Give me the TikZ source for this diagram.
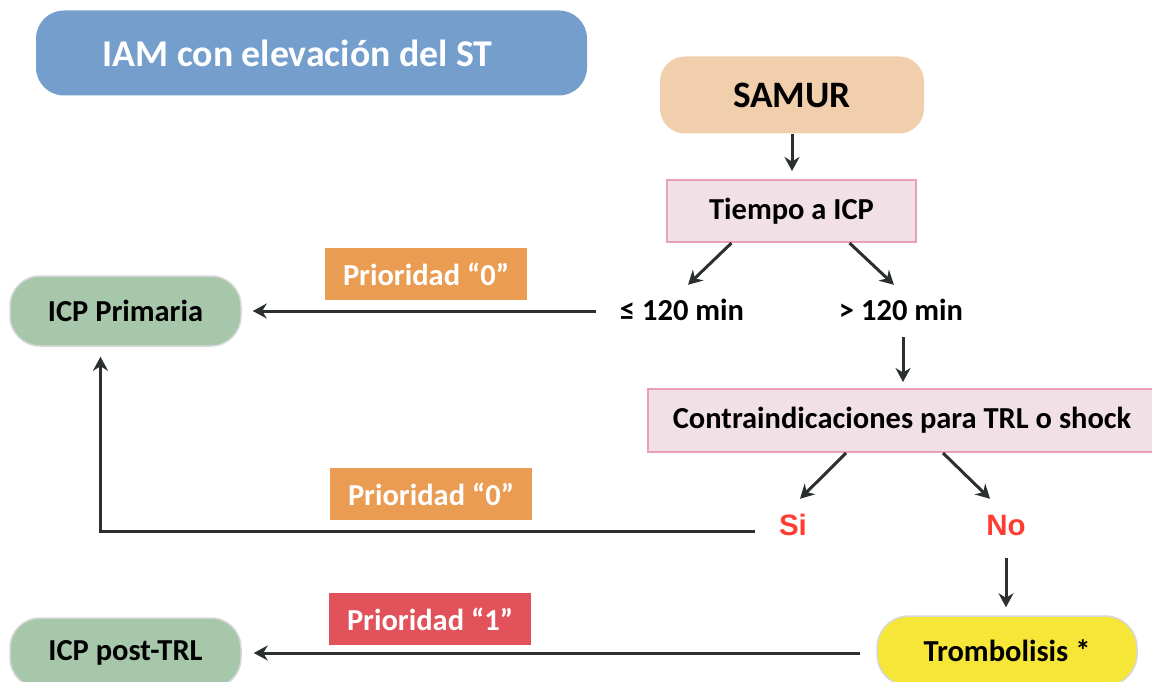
\documentclass[tikz,border=0pt]{standalone}
\usepackage{fontspec}
\setmainfont{Carlito}
\newfontfamily\arialf{Liberation Sans}
\usetikzlibrary{arrows.meta,calc}
\definecolor{titlec}{RGB}{116,158,204}
\definecolor{samurc}{RGB}{241,206,172}
\definecolor{pinkf}{RGB}{242,224,231}
\definecolor{pinkd}{RGB}{232,160,190}
\definecolor{orangec}{RGB}{234,157,82}
\definecolor{redc}{RGB}{225,82,90}
\definecolor{greenc}{RGB}{167,199,170}
\definecolor{grayd}{RGB}{215,215,215}
\definecolor{yellowc}{RGB}{245,230,55}
\definecolor{sino}{RGB}{255,60,50}
\definecolor{arrc}{RGB}{43,47,47}
\begin{document}
\begin{tikzpicture}[x=1pt,y=-1pt,
  base/.style={inner sep=0pt, font=\bfseries\fontsize{30.5}{35}\selectfont},
  lbl/.style={base, text height=20pt, text depth=6pt},
  endbox/.style={base, rounded corners=30pt, fill=greenc, draw=grayd, line width=1.5pt, minimum width=231pt, minimum height=70pt},
  prio/.style={base, text=white, minimum width=202pt, minimum height=52pt},
  decbox/.style={base, fill=pinkf, draw=pinkd, line width=2pt},
  arr/.style={draw=arrc, line width=3pt, -{Stealth[length=14pt,width=15pt]}},
  plain/.style={draw=arrc, line width=3pt}
]
\useasboundingbox (0,0) rectangle (1152,682);
\clip (0,0) rectangle (1152,682);
% nodes
\node[base, fill=titlec, text=white, rounded corners=28pt, minimum width=551pt, minimum height=85pt, font=\bfseries\fontsize{37.8}{42}\selectfont] (title) at (311.5,53) {\hspace*{-28pt}IAM con elevación del ST};
\node[base, fill=samurc, rounded corners=25pt, minimum width=264pt, minimum height=77pt, font=\bfseries\fontsize{37.3}{42}\selectfont] (samur) at (792,95) {SAMUR};
\node[decbox, minimum width=249pt, minimum height=62pt] (tiempo) at (791.5,211) {Tiempo a ICP};
\node[lbl] (le) at (682,313) {≤ 120 min};
\node[lbl] (gt) at (901,313) {> 120 min};
\node[endbox] (prim) at (125.5,311) {ICP Primaria};
\node[prio, fill=orangec] (p0a) at (426,274) {Prioridad “0”};
\node[decbox, minimum width=508pt, minimum height=63pt] (contra) at (902,420.5) {Contraindicaciones para TRL o shock};
\node[lbl, text=sino, font=\arialf\bfseries\fontsize{29.5}{34}\selectfont] (si) at (793,528) {Si};
\node[lbl, text=sino, font=\arialf\bfseries\fontsize{29.5}{34}\selectfont] (no) at (1006,528) {No};
\node[prio, fill=orangec] (p0b) at (431,494) {Prioridad “0”};
\node[endbox, fill=yellowc, rounded corners=32pt, minimum width=260pt] (trom) at (1007,651) {Trombolisis *};
\node[endbox] (post) at (125.5,653) {ICP post-TRL};
\node[prio, fill=redc] (p1) at (430,619) {Prioridad “1”};
% connectors
\draw[arr, shorten >=8pt] (samur.south) -- (samur.south |- tiempo.north);
\draw[arr] ($(tiempo.south)+(-60,0)$) -- ($(le.north)+(6,-15)$);
\draw[arr] ($(tiempo.south)+(58,0)$) -- ($(gt.north)+(-7,-15)$);
\draw[arr, shorten <=24pt, shorten >=11pt] ([yshift=2pt]le.west) -- ([yshift=2pt]le.west -| prim.east);
\draw[arr, shorten <=11pt, shorten >=6pt] ([xshift=2pt]gt.south) -- ([xshift=2pt]gt.south |- contra.north);
\draw[arr] ($(contra.south)+(-56,0)$) -- ($(si.north)+(7,-16)$);
\draw[arr] ($(contra.south)+(41,0)$) -- ($(no.north)+(-16,-16)$);
\draw[arr, shorten <=17pt, shorten >=8pt] (no.south) -- (no.south |- trom.north);
\draw[arr, shorten <=24pt, shorten >=10pt] ([yshift=-3pt]si.west) -| ($(prim.south)+(-25,0)$);
\draw[arr, shorten <=16pt, shorten >=12pt] ([yshift=-2pt]trom.west) -- ([yshift=-2pt]trom.west -| post.east);
\end{tikzpicture}
\end{document}
